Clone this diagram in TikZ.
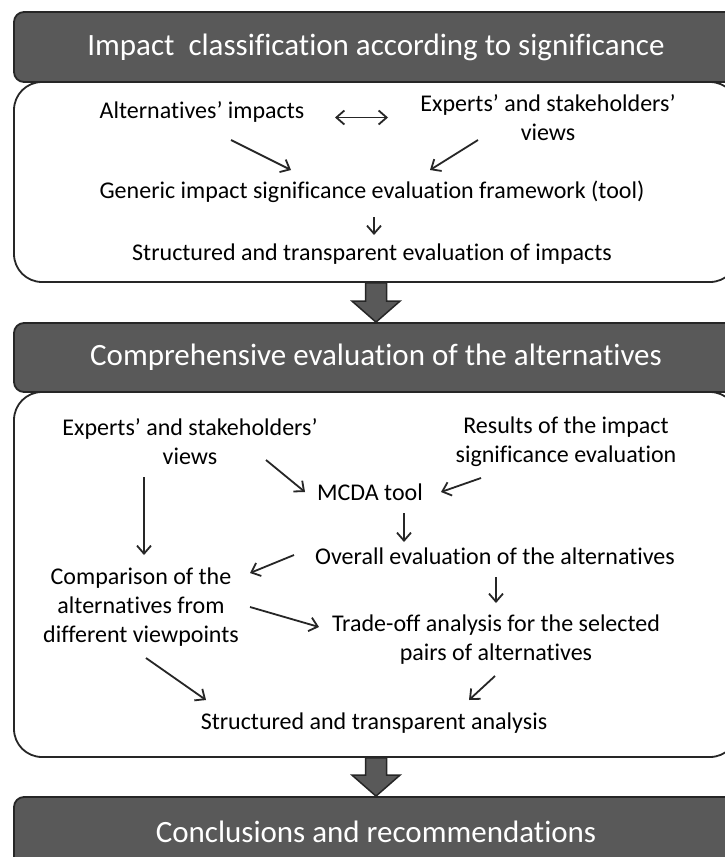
\documentclass[tikz,border=0pt]{standalone}
\usepackage{fontspec}
\setmainfont{Carlito}[Ligatures={TeX,NoCommon}]
\usetikzlibrary{arrows.meta}

\begin{document}
\begin{tikzpicture}[x=1pt,y=-1pt,
  head/.style={draw=black!85,line width=1.8pt,fill=black!65,rounded corners=10pt,minimum width=724pt,minimum height=70pt,text=white,font=\fontsize{31}{36}\selectfont},
  body/.style={draw=black!85,line width=1.8pt,fill=white,rounded corners=28pt,minimum width=724pt},
  txt/.style={align=center,inner sep=0pt,font=\fontsize{24}{29}\selectfont},
  flow/.style={-{Straight Barb[length=8pt,width=14pt]},line width=1.8pt,black!85},
  bigarrow/.style={draw=black!85,line width=1.5pt,fill=black!65,
    to path={([xshift=-10.5pt]\tikztostart) -- ([xshift=-10.5pt,yshift=21pt]\tikztotarget) -- ([xshift=-24pt,yshift=21pt]\tikztotarget) -- (\tikztotarget) -- ([xshift=24pt,yshift=21pt]\tikztotarget) -- ([xshift=10.5pt,yshift=21pt]\tikztotarget) -- ([xshift=10.5pt]\tikztostart) -- cycle}}]

  \useasboundingbox (0,0) rectangle (725,857);
  \clip (0,0) rectangle (725,857);

  % first stage
  \node[body,minimum height=200pt] at (376,182) (body1) {};
  \node[head] at (376,47) (head1) {Impact\ \ classification according to significance};

  \node[txt] at (202,112) (alt1) {Alternatives' impacts};
  \node[txt] at (548,117.5) (exp1) {Experts' and stakeholders'\\views};
  \node[txt] at (372,192) (gen1) {Generic impact significance evaluation framework (tool)};
  \node[txt] at (372,254) (str1) {Structured and transparent evaluation of impacts};

  \draw[flow,{Straight Barb[length=8pt,width=14pt]}-{Straight Barb[length=8pt,width=14pt]}] ([shift={(133,0)}]alt1.center |- exp1.center) -- ([shift={(-160,0)}]exp1.center);
  \draw[flow] ([shift={(29,28)}]alt1.center) -- ([shift={(-81,-22)}]gen1.center);
  \draw[flow] ([shift={(-70,22.5)}]exp1.center) -- ([shift={(58,-22)}]gen1.center);
  \draw[flow] ([shift={(2,25)}]gen1.center) -- ([shift={(2,-19)}]str1.center);

  % second stage
  \node[body,minimum height=365pt] at (376,574.5) (body2) {};
  \node[head,minimum height=69pt] at (376,357.5) (head2) {Comprehensive evaluation of the alternatives};

  \node[txt] at (190,441.5) (exp2) {Experts' and stakeholders'\\views};
  \node[txt] at (566,441.5) (res2) {Results of the impact\\significance evaluation};
  \node[txt] at (370,492) (mcda) {MCDA tool};
  \node[txt] at (495,556) (over) {Overall evaluation of the alternatives};
  \node[txt] at (141,607.5) (comp) {Comparison of the\\alternatives from\\different viewpoints};
  \node[txt] at (496,639.5) (trade) {Trade-off analysis for the selected\\pairs of alternatives};
  \node[txt] at (374,723) (str2) {Structured and transparent analysis};

  \draw[flow] ([shift={(76,18.5)}]exp2.center) -- ([shift={(-65,0)}]mcda.center);
  \draw[flow] ([shift={(-85,36.5)}]res2.center) -- ([shift={(71,0)}]mcda.center);
  \draw[flow] ([shift={(34,21)}]mcda.center) -- ([shift={(-91,-14)}]over.center);
  \draw[flow] ([shift={(-46,35.5)}]exp2.center) -- ([shift={(3,-52.5)}]comp.center);
  \draw[flow] ([shift={(-201,-1)}]over.center) -- ([shift={(109,-34.5)}]comp.center);
  \draw[flow] ([shift={(1,21)}]over.center) -- ([shift={(0,-36.5)}]trade.center);
  \draw[flow] ([shift={(109,-0.5)}]comp.center) -- ([shift={(-177,-12.5)}]trade.center);
  \draw[flow] ([shift={(5,50.5)}]comp.center) -- ([shift={(-168,-23)}]str2.center);
  \draw[flow] ([shift={(-1,36.5)}]trade.center) -- ([shift={(95,-23)}]str2.center);

  % last stage
  \node[head] at (376,832) (head3) {Conclusions and recommendations};

  \path (body1.south) edge[bigarrow] (head2.north)
        (body2.south) edge[bigarrow] (head3.north);

\end{tikzpicture}
\end{document}
